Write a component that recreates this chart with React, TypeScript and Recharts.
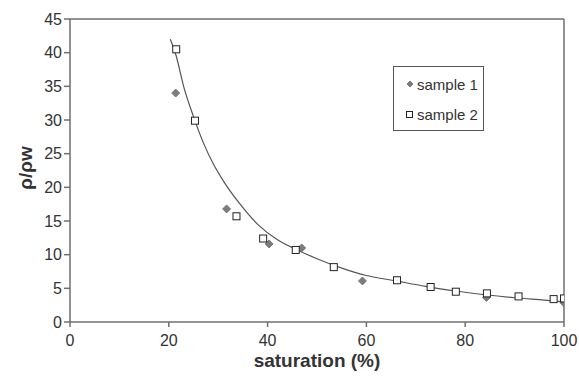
import {
  ComposedChart, Line, Scatter, XAxis, YAxis, ReferenceLine,
} from 'recharts';

const FONT = "Arial, 'Liberation Sans', sans-serif";
const AXIS = '#6f6f6f';
const TEXT = '#333333';

// x-axis / y-axis ticks
const satTicks = [0, 20, 40, 60, 80, 100];
const ratioTicks = [0, 5, 10, 15, 20, 25, 30, 35, 40, 45];

// sample 1 (filled diamonds)
const sample1Sat = [21.4, 31.7, 40.3, 46.9, 59.2, 84.3, 100];
const sample1Ratio = [34.0, 16.8, 11.6, 11.0, 6.1, 3.65, 2.85];

// sample 2 (open squares)
const sample2Sat = [21.5, 25.3, 33.7, 39.1, 45.7, 53.4, 66.2, 73.0, 78.1, 84.4, 90.8, 97.9, 100];
const sample2Ratio = [40.5, 29.9, 15.7, 12.4, 10.7, 8.15, 6.2, 5.2, 4.5, 4.25, 3.8, 3.4, 3.5];

// fitted trend curve
const fitSat = [20.3, 21.5, 23, 25, 27, 29, 31, 34, 38, 42, 46, 50, 55, 60, 66, 72, 78, 84, 90, 96, 100];
const fitRatio = [42.0, 39.5, 35.0, 30.5, 26.6, 23.5, 21.0, 17.9, 14.5, 12.2, 10.7, 9.4, 8.0, 6.9, 6.1, 5.3, 4.6, 4.05, 3.6, 3.25, 3.0];

const zip = (xs: number[], ys: number[]) => xs.map((x, i) => ({ x, y: ys[i] }));
const sample1 = zip(sample1Sat, sample1Ratio);
const sample2 = zip(sample2Sat, sample2Ratio);
const fit = zip(fitSat, fitRatio);

function Diamond({ cx, cy }: { cx?: number; cy?: number }) {
  if (cx == null || cy == null) return null;
  const r = 4;
  return (
    <polygon
      points={`${cx},${cy - r} ${cx + r},${cy} ${cx},${cy + r} ${cx - r},${cy}`}
      fill="#7c7c7c"
      stroke="#6a6a6a"
      strokeWidth={0.8}
    />
  );
}

function Square({ cx, cy }: { cx?: number; cy?: number }) {
  if (cx == null || cy == null) return null;
  const s = 7;
  return (
    <rect x={cx - s / 2} y={cy - s / 2} width={s} height={s} fill="#fff" stroke="#222" strokeWidth={1} />
  );
}

function LegendBox() {
  return (
    <div
      style={{
        position: 'absolute', left: 393, top: 66,
        width: 89, height: 63, border: '1px solid #555', background: '#fff',
        fontFamily: FONT, fontSize: 15, color: TEXT,
      }}
    >
      <div style={{ display: 'flex', alignItems: 'center', height: 16, marginTop: 9, marginLeft: 11 }}>
        <svg width={10} height={10} style={{ marginRight: 2 }}>
          <polygon points="5,2 8,5 5,8 2,5" fill="#7c7c7c" stroke="#6a6a6a" strokeWidth={0.8} />
        </svg>
        sample 1
      </div>
      <div style={{ display: 'flex', alignItems: 'center', height: 16, marginTop: 14, marginLeft: 11 }}>
        <svg width={10} height={10} style={{ marginRight: 2 }}>
          <rect x={1.5} y={2.5} width={6} height={6} fill="#fff" stroke="#222" strokeWidth={1} />
        </svg>
        sample 2
      </div>
    </div>
  );
}

export default function App() {
  return (
    <div style={{ position: 'absolute', left: 0, top: 0, width: 579, height: 378, background: '#fff' }}>
      <ComposedChart
        width={579}
        height={378}
        margin={{ top: 19, right: 15, left: 0, bottom: 0 }}
      >
        <XAxis
          type="number"
          dataKey="x"
          domain={[0, 100]}
          ticks={satTicks}
          allowDataOverflow
          stroke={AXIS}
          strokeWidth={1.5}
          tickSize={5}
          tickMargin={8}
          height={56}
          tick={{ fill: TEXT, fontSize: 16, fontFamily: FONT }}
          label={{
            content: () => (
              <text x={317} y={367} textAnchor="middle" fontFamily={FONT} fontSize={19} fontWeight="bold" fill={TEXT}>
                saturation (%)
              </text>
            ),
          }}
        />
        <YAxis
          type="number"
          dataKey="y"
          domain={[0, 45]}
          ticks={ratioTicks}
          allowDataOverflow
          stroke={AXIS}
          strokeWidth={1.5}
          tickSize={6}
          tickMargin={2}
          width={70}
          tick={{ fill: TEXT, fontSize: 16, fontFamily: FONT }}
          label={{
            content: () => (
              <text
                x={25}
                y={168}
                transform="rotate(-90 25 168)"
                textAnchor="middle"
                dominantBaseline="central"
                fontFamily={FONT}
                fontSize={19}
                fontWeight="bold"
                fill={TEXT}
              >
                ρ/ρw
              </text>
            ),
          }}
        />
        <ReferenceLine y={45} stroke={AXIS} strokeWidth={1.5} />
        <ReferenceLine x={100} stroke={AXIS} strokeWidth={1.5} />
        <Line
          data={fit}
          dataKey="y"
          type="monotone"
          stroke="#555"
          strokeWidth={1.2}
          dot={false}
          activeDot={false}
          isAnimationActive={false}
          legendType="none"
        />
        <Scatter data={sample1} dataKey="y" shape={<Diamond />} isAnimationActive={false} name="sample 1" />
        <Scatter data={sample2} dataKey="y" shape={<Square />} isAnimationActive={false} name="sample 2" />
      </ComposedChart>
      <LegendBox />
    </div>
  );
}
